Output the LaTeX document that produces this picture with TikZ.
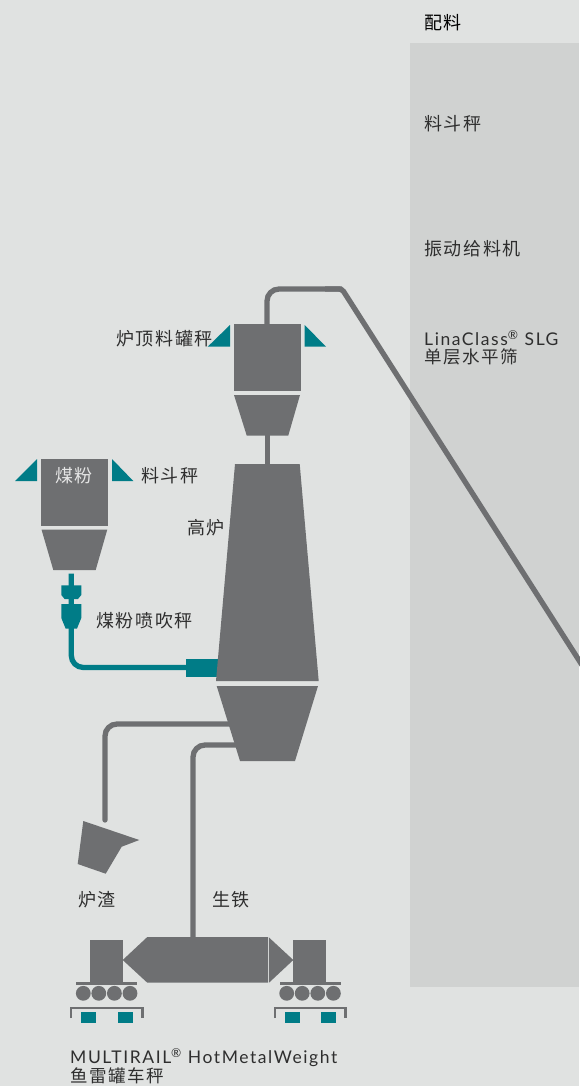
\documentclass[tikz,border=0pt]{standalone}
\usepackage{fontspec}
\setmainfont[LetterSpace=9]{Lato}
\newfontfamily\cjkfont[LetterSpace=9]{Noto Sans CJK SC}
\usepackage{tikz}
\definecolor{bgcol}{HTML}{E0E2E1}
\definecolor{panelcol}{HTML}{D0D2D1}
\definecolor{plantgrey}{HTML}{6E6F71}
\definecolor{scaleteal}{HTML}{007C87}
\definecolor{labelcol}{HTML}{2E2E2E}
\tikzset{
  plant/.style={fill=plantgrey},
  scalepart/.style={fill=scaleteal},
  pipe/.style={draw=plantgrey, line width=5.3pt, rounded corners=12pt},
  tealpipe/.style={draw=scaleteal, line width=5.3pt, rounded corners=12pt},
  lbl/.style={inner sep=0pt, text=labelcol, anchor=west, font=\fontsize{18}{18}\selectfont\cjkfont},
  twolbl/.style={lbl, align=left, anchor=north west, font=\fontsize{17.5}{18.5}\selectfont},
}
\begin{document}
\begin{tikzpicture}[x=1pt, y=-1pt]
\useasboundingbox (0,0) rectangle (579,1086);
\fill[bgcol] (0,0) rectangle (579,1086);
\fill[panelcol] (410,43) rectangle (579,987);

% pipes
\coordinate (topbin) at (267,325);
\coordinate (belt) at (342,289);
\coordinate (beltend) at (582,665);
\coordinate (binout) at (267,435);
\coordinate (furnacein) at (267,465);
\coordinate (slagout) at (232,724);
\coordinate (slagend) at (105,820);
\coordinate (ironout) at (238,745);
\coordinate (ironend) at (193,938);
\coordinate (coalout) at (71.3,573.5);
\coordinate (lance) at (187,667.5);
\draw[pipe] (topbin) |- (belt);
\draw[pipe, rounded corners=3pt] (325,289) -- (belt) -- (beltend);
\draw[plantgrey, line width=5pt] (binout) -- (furnacein);
\draw[pipe, line cap=round] (slagout) -| (slagend);
\draw[pipe] (ironout) -| (ironend);
\draw[tealpipe] (coalout) |- (lance);

% top bin
\fill[plant] (234,324) rectangle (301,391);
\fill[plant] (234,395) -- (300,395) -- (288.3,435.5) -- (246.7,435.5) -- cycle;
\fill[scalepart] (207.7,346.7) -- (230,346.7) -- (230,325) -- cycle;
\fill[scalepart] (304.7,325) -- (304.7,346.7) -- (326,346.7) -- cycle;

% coal bin
\fill[plant] (41,459) rectangle (108,526);
\fill[plant] (41.5,529.5) -- (107.3,529.5) -- (95.7,570) -- (53.3,570) -- cycle;
\fill[scalepart] (15,481) -- (37,481) -- (37,459) -- cycle;
\fill[scalepart] (112,459) -- (112,481) -- (133.3,481) -- cycle;

% injection scale
\fill[scalepart] (61.3,585.3) -- (81.3,585.3) -- (81.3,595) -- (78,599) -- (64.6,599) -- (61.3,595) -- cycle;
\fill[scalepart] (61.3,604) -- (81.3,604) -- (81.3,618) -- (77,628.5) -- (65.6,628.5) -- (61.3,618) -- cycle;
\fill[scalepart] (186,659) rectangle (218,677);

% furnace
\fill[plant] (235,464) -- (299.7,464) -- (318.7,681) -- (216,681) -- cycle;
\fill[plant] (216.7,686) -- (318,686) -- (295,761) -- (240,761) -- cycle;

% slag ladle
\fill[plant] (83.3,821) -- (139.3,840) -- (121.7,846.7) -- (105.7,873.7) -- (77.7,864) -- cycle;

% torpedo car
\fill[plant] (122.7,960) -- (147.3,937) -- (268,937) -- (268,982.7) -- (147.3,982.7) -- cycle;
\fill[plant] (269,937.5) -- (293.3,960) -- (269,982.7) -- cycle;
\fill[plant] (90,940) rectangle (123,982);
\fill[plant] (293,940) rectangle (326,982);
\fill[plant] (76,982) rectangle (137,985);
\fill[plant] (280,982) rectangle (341,985);
\foreach \wx in {83.3,98.8,114.4,130} \fill[plant] (\wx,993.3) circle (7.4);
\foreach \wx in {286.7,302.2,317.8,333.4} \fill[plant] (\wx,993.3) circle (7.4);
\draw[plantgrey, line width=2.2pt] (71,1018) -- (71,1008) -- (142.5,1008) -- (142.5,1018);
\draw[plantgrey, line width=2.2pt] (274.7,1018) -- (274.7,1008) -- (345.5,1008) -- (345.5,1018);
\foreach \sx in {81,118,285,321} \fill[scalepart] (\sx,1012) rectangle ++(15,11);

% labels
\node[lbl, text=black] (batching) at (424,23) {配料};
\node[lbl] (panelhopper) at (424,124) {料斗秤};
\node[lbl] (feeder) at (424,249) {振动给料机};
\node[twolbl] (screen) at (424,330) {LinaClass\textsuperscript{®} SLG\\{\cjkfont 单层水平筛}};
\node[lbl] (topscale) at (116,339) {炉顶料罐秤};
\node[lbl, text=white!90!black] (coal) at (55,476) {煤粉};
\node[lbl] (coalhopper) at (141,476) {料斗秤};
\node[lbl] (furnace) at (187,528) {高炉};
\node[lbl] (inject) at (96,621) {煤粉喷吹秤};
\node[lbl] (slag) at (78,900) {炉渣};
\node[lbl] (iron) at (212,900) {生铁};
\node[twolbl] (torpedo) at (70,1048.5) {MULTIRAIL\textsuperscript{®} HotMetalWeight\\{\cjkfont 鱼雷罐车秤}};
\end{tikzpicture}
\end{document}
